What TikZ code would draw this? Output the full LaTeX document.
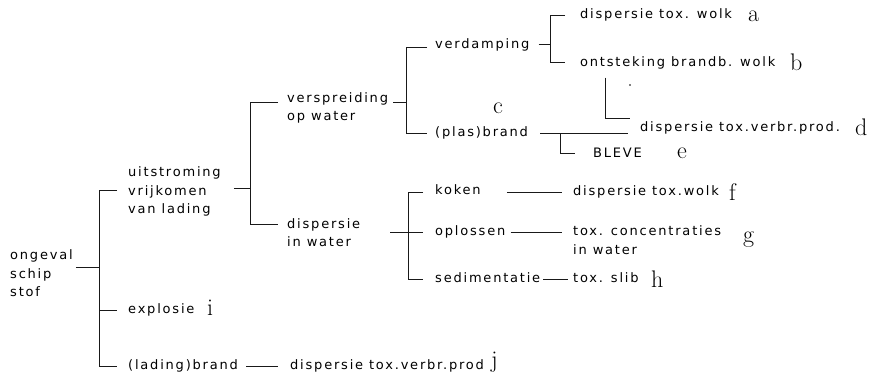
\documentclass[tikz,border=0pt]{standalone}
\usepackage{fontspec}
\newfontfamily\lettering[LetterSpace=13.8]{DejaVu Sans}
\tikzset{
  txt/.style={anchor=base west, inner sep=0pt, align=left,
    font=\lettering\fontsize{13}{18.5}\selectfont},
  lbl/.style={anchor=base west, inner sep=0pt,
    font=\rmfamily\fontsize{24}{24}\selectfont},
  ln/.style={line width=0.8pt, black!90},
}
\begin{document}
\begin{tikzpicture}[x=1pt, y=-1pt]
\path[use as bounding box] (0,0) rectangle (872,376);

% --- texts (multi-line nodes sit on the baseline of their last line) ---
\node[txt] (root)  at (10,296.6) {ongeval\\schip\\stof};
\node[txt] (uit)   at (128,213.6) {uitstroming\\vrijkomen\\van lading};
\node[txt] (expl)  at (128,313.6) {explosie};
\node[txt] (lbr)   at (128,369.6) {(lading)brand};
\node[txt] (dvpj)  at (290,369.6) {dispersie tox.verbr.prod};
\node[txt] (versp) at (287,120.5) {verspreiding\\op water};
\node[txt] (disw)  at (287,246.6) {dispersie\\in water};
\node[txt] (verd)  at (435,48.6) {verdamping};
\node[txt] (plas)  at (435,136.6) {(plas)brand};
\node[txt] (dta)   at (580,18.6) {dispersie tox. wolk};
\node[txt] (ont)   at (580,66.6) {ontsteking brandb. wolk};
\node[txt] (dvp)   at (640,131.6) {dispersie tox.verbr.prod.};
\node[txt] (bleve) at (593,157.7) {BLEVE};
\node[txt] (koken) at (435,194.6) {koken};
\node[txt] (opl)   at (435,235.6) {oplossen};
\node[txt] (sedim) at (435,282.6) {sedimentatie};
\node[txt] (dtf)   at (573,195.6) {dispersie tox.wolk};
\node[txt] (tcw)   at (573,254) {tox. concentraties\\in water};
\node[txt] (slib)  at (573,282.6) {tox. slib};

% --- case letters ---
\node[lbl] (la) at (748,21)  {a};
\node[lbl] (lb) at (790,70)  {b};
\node[lbl] (lc) at (493,113) {c};
\node[lbl] (ld) at (855,135) {d};
\node[lbl] (le) at (677,158) {e};
\node[lbl] (lf) at (729,200) {f};
\node[lbl] (lg) at (743,242) {g};
\node[lbl] (lh) at (651,287) {h};
\node[lbl] (li) at (207,315) {i};
\node[lbl] (lj) at (491,367) {j};

% --- bracket junctions ---
\coordinate (j0)  at (99,267);
\coordinate (j0t) at (99,190);
\coordinate (j0b) at (99,366);
\coordinate (j1)  at (250,188);
\coordinate (j1t) at (250,102);
\coordinate (j1b) at (250,224);
\coordinate (j2)  at (406,102);
\coordinate (j2t) at (406,47);
\coordinate (j2b) at (406,133);
\coordinate (j3)  at (550,44);
\coordinate (j3t) at (550,15);
\coordinate (j3b) at (550,62);
\coordinate (j4)  at (408,232);
\coordinate (j4t) at (408,192);
\coordinate (j4b) at (408,279);
\coordinate (k1)  at (560,133);

% ongeval schip stof
\draw[ln] ([xshift=3pt]root.east |- j0) -- (j0);
\draw[ln] ([xshift=-11pt]uit.west |- j0t) -- (j0t) -- (j0b) -- ([xshift=-11pt]lbr.west |- j0b);
\draw[ln] (j0 |- expl.west) -- ([xshift=-11pt]expl.west);
\draw[ln] ([xshift=8pt]lbr.east) -- ([xshift=-12pt]dvpj.west |- lbr.east);

% uitstroming
\draw[ln] ([xshift=13pt]uit.east |- j1) -- (j1);
\draw[ln] ([xshift=-9pt]versp.west |- j1t) -- (j1t) -- (j1b) -- ([xshift=-9pt]disw.west |- j1b);

% verspreiding op water
\draw[ln] ([xshift=5pt]versp.east |- j2) -- (j2);
\draw[ln] ([xshift=-8pt]verd.west |- j2t) -- (j2t) -- (j2b) -- ([xshift=-8pt]plas.west |- j2b);

% verdamping
\draw[ln] ([xshift=9pt]verd.east |- j3) -- (j3);
\draw[ln] ([xshift=-15pt]dta.west |- j3t) -- (j3t) -- (j3b) -- ([xshift=-15pt]ont.west |- j3b);

% (plas)brand
\draw[ln] ([xshift=12pt]plas.east |- j2b) -- ([xshift=-12pt]dvp.west |- j2b);
\draw[ln] (k1) |- ([xshift=-18pt]bleve.west);
\draw[ln] ([xshift=25pt,yshift=-8pt]ont.south west) |- ([xshift=-10pt,yshift=10pt]dvp.west);
\fill (630,85) circle (0.8);

% dispersie in water
\draw[ln] ([xshift=30pt]disw.east |- j4) -- (j4);
\draw[ln] ([xshift=-12pt]koken.west |- j4t) -- (j4t) -- (j4b) -- ([xshift=-12pt]sedim.west |- j4b);
\draw[ln] (j4) -- ([xshift=-12pt]opl.west |- j4);
\draw[ln] ([xshift=26pt]koken.east |- j4t) -- ([xshift=-11pt]dtf.west |- j4t);
\draw[ln] ([xshift=5pt]opl.east |- j4) -- ([xshift=-11pt]tcw.west |- j4);
\draw[ln] ([xshift=3pt]sedim.east |- j4b) -- ([xshift=-5pt]slib.west |- j4b);
\end{tikzpicture}
\end{document}
